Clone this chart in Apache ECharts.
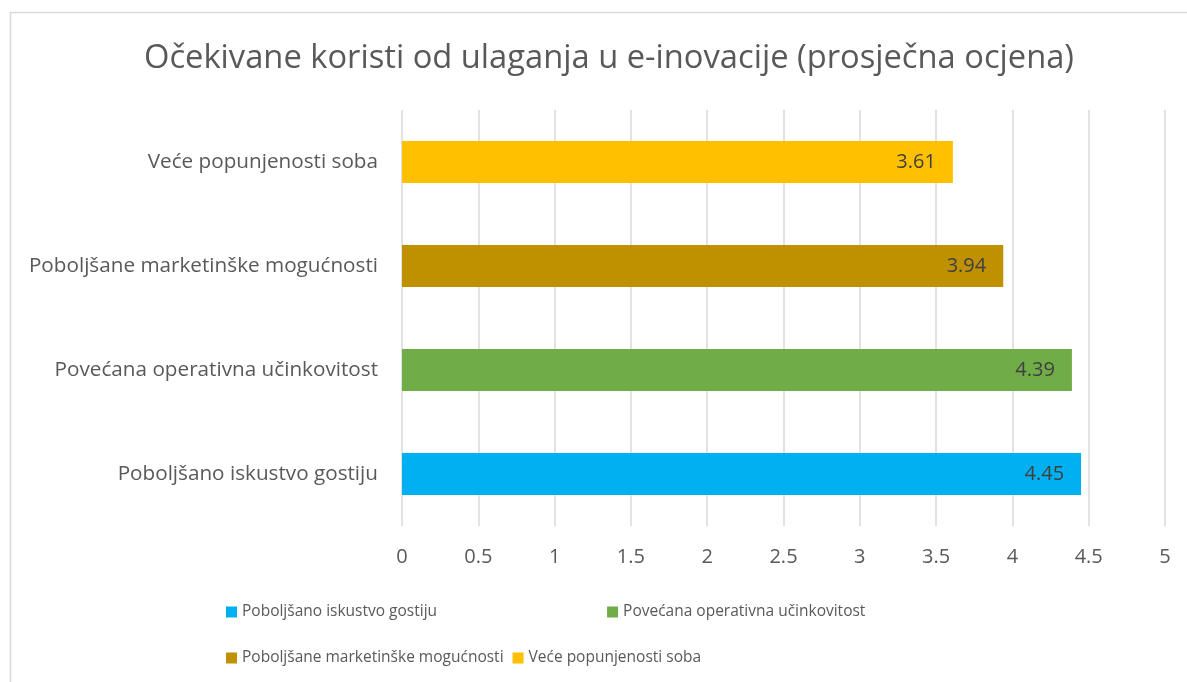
<!DOCTYPE html>
<html>
<head>
<meta charset="utf-8">
<script src="https://cdn.jsdelivr.net/npm/echarts@6/dist/echarts.min.js"></script>
<style>
  html, body { margin: 0; padding: 0; background: #fff; }
  #chart { width: 1187px; height: 682px; }
</style>
</head>
<body>
<div id="chart"></div>
<script>
// categories, bottom to top (as drawn on the y axis)
var categories = [
  'Poboljšano iskustvo gostiju',
  'Povećana operativna učinkovitost',
  'Poboljšane marketinške mogućnosti',
  'Veće popunjenosti soba'
];
var values = [4.45, 4.39, 3.94, 3.61];
var colors = ['#00B0F0', '#70AD47', '#BF9000', '#FFC000'];
var xTicks = [0, 0.5, 1, 1.5, 2, 2.5, 3, 3.5, 4, 4.5, 5];

var font = "'Open Sans', 'Noto Sans', sans-serif";
var chart = echarts.init(document.getElementById('chart'));

// one series per category so the legend can list each one (Excel "vary colours by point")
var series = categories.map(function (name, i) {
  var data = categories.map(function (c, j) { return j === i ? values[i] : '-'; });
  return {
    name: name,
    type: 'bar',
    stack: 'all',
    barWidth: 42,
    data: data,
    itemStyle: { color: colors[i] },
    label: {
      show: true,
      position: 'insideRight',
      distance: 17,
      color: '#404040',
      fontFamily: font,
      fontSize: 20,
      formatter: function (p) { return p.value.toFixed(2); }
    }
  };
});

var legendText = { color: '#595959', fontFamily: font, fontSize: 15.5 };

chart.setOption({
  animation: false,
  backgroundColor: '#fff',
  title: {
    text: 'Očekivane koristi od ulaganja u e-inovacije (prosječna ocjena)',
    left: 604,
    textAlign: 'center',
    top: 37,
    textStyle: { color: '#595959', fontFamily: font, fontSize: 32.7, fontWeight: 'normal' }
  },
  graphic: [{
    type: 'rect',
    shape: { x: 10.5, y: 12.5, width: 1200, height: 700 },
    style: { fill: 'none', stroke: '#D9D9D9', lineWidth: 1.5 },
    silent: true,
    z: -1
  }],
  legend: [{
    data: [categories[0], categories[1]],
    left: 221,
    top: 599,
    itemWidth: 11,
    itemHeight: 11,
    itemGap: 170,
    icon: 'rect',
    textStyle: legendText
  }, {
    data: [categories[2], categories[3]],
    left: 221,
    top: 645,
    itemWidth: 11,
    itemHeight: 11,
    itemGap: 9,
    icon: 'rect',
    textStyle: legendText
  }],
  grid: { left: 402, top: 110, width: 763, height: 416, containLabel: false },
  xAxis: {
    type: 'value',
    min: xTicks[0],
    max: xTicks[xTicks.length - 1],
    interval: 0.5,
    axisLine: { show: false },
    axisTick: { show: false },
    axisLabel: { color: '#595959', fontFamily: font, fontSize: 20, margin: 21 },
    splitLine: { lineStyle: { color: '#D9D9D9', width: 1.5 } }
  },
  yAxis: {
    type: 'category',
    data: categories,
    axisLine: { show: false },
    axisTick: { show: false },
    axisLabel: { color: '#595959', fontFamily: font, fontSize: 20.7, margin: 24 },
    splitLine: { show: false }
  },
  series: series
});
</script>
</body>
</html>
